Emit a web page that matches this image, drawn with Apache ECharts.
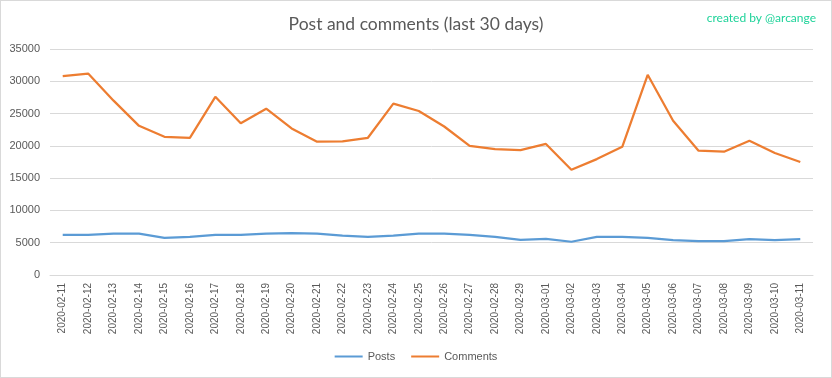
<!DOCTYPE html>
<html><head><meta charset="utf-8">
<script src="https://cdn.jsdelivr.net/npm/echarts@6/dist/echarts.min.js"></script>
<style>
html,body{margin:0;padding:0;background:#fff;}
#c{position:absolute;left:0;top:0;width:830px;height:376px;border:1px solid #d9d9d9;}
</style></head>
<body><div id="c"></div>
<script>
const categories = ["2020-02-11","2020-02-12","2020-02-13","2020-02-14","2020-02-15","2020-02-16","2020-02-17","2020-02-18","2020-02-19","2020-02-20","2020-02-21","2020-02-22","2020-02-23","2020-02-24","2020-02-25","2020-02-26","2020-02-27","2020-02-28","2020-02-29","2020-03-01","2020-03-02","2020-03-03","2020-03-04","2020-03-05","2020-03-06","2020-03-07","2020-03-08","2020-03-09","2020-03-10","2020-03-11"];
const posts = [6200,6200,6400,6400,5750,5900,6200,6200,6400,6500,6400,6100,5900,6100,6400,6400,6200,5900,5450,5600,5150,5900,5900,5750,5400,5250,5250,5550,5400,5550];
const comments = [30800,31200,27000,23100,21400,21250,27600,23500,25750,22700,20650,20700,21250,26550,25400,23000,20000,19500,19350,20300,16300,17950,19850,31000,23900,19250,19100,20800,18900,17500];
const titleText = "Post and comments (last 30 days)";
const creditText = "created by @arcange";

const chart = echarts.init(document.getElementById('c'));
chart.setOption({
  animation:false,
  title:[
    {text:titleText,left:'center',top:9,textStyle:{fontFamily:'Lato',fontWeight:'normal',fontSize:17.5,color:'#595959'}},
    {text:creditText,right:10,top:6,textStyle:{fontFamily:'Lato',fontWeight:'normal',fontSize:12,color:'#1fd39a'}}
  ],
  legend:{bottom:10,left:'center',itemWidth:28,itemHeight:2,itemGap:16,icon:'rect',
    textStyle:{fontFamily:'Liberation Sans',fontSize:11,color:'#595959'},
    data:['Posts','Comments']},
  grid:{left:49,right:18,top:48,bottom:102},
  xAxis:{type:'category',data:categories,boundaryGap:true,
    axisLine:{lineStyle:{color:'#d9d9d9'}},axisTick:{show:false},
    axisLabel:{rotate:90,interval:0,fontFamily:'Liberation Sans',fontSize:10,color:'#595959',margin:8}},
  yAxis:{type:'value',min:0,max:35000,interval:5000,
    axisLine:{show:false},axisTick:{show:false},
    splitLine:{lineStyle:{color:'#d9d9d9'}},
    axisLabel:{fontFamily:'Liberation Sans',fontSize:11,color:'#595959',margin:10,formatter:v=>String(v)}},
  series:[
    {name:'Posts',type:'line',data:posts,symbol:'none',lineStyle:{width:2.25,color:'#5b9bd5'},itemStyle:{color:'#5b9bd5'}},
    {name:'Comments',type:'line',data:comments,symbol:'none',lineStyle:{width:2.25,color:'#ed7d31'},itemStyle:{color:'#ed7d31'}}
  ]
});
</script></body></html>
